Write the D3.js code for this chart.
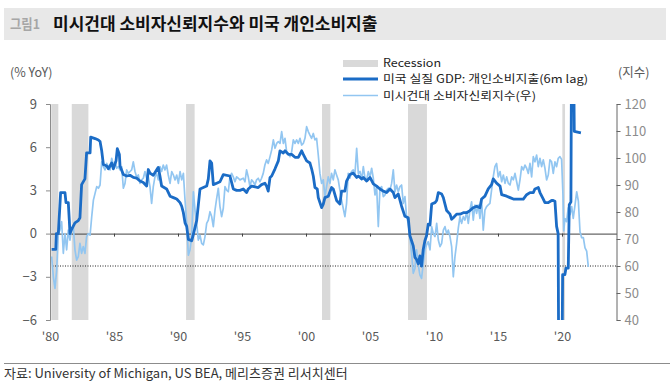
<!DOCTYPE html>
<html><head><meta charset="utf-8">
<script src="https://cdn.jsdelivr.net/npm/d3@7/dist/d3.min.js"></script>
<style>
html,body{margin:0;padding:0;background:#fff;}
svg text{font-family:"Noto Sans CJK KR","Noto Sans",sans-serif;}
</style></head>
<body>
<svg id="c" width="670" height="381"></svg>
<script>
// ---- data ----
const titleTag = "그림1";
const titleText = "미시건대 소비자신뢰지수와 미국 개인소비지출";
const sourceText = "자료: University of Michigan, US BEA, 메리츠증권 리서치센터";
const legendLabels = ["Recession", "미국 실질 GDP: 개인소비지출(6m lag)", "미시건대 소비자신뢰지수(우)"];
const leftUnit = "(% YoY)";
const rightUnit = "(지수)";
const leftTicks = [-6, -3, 0, 3, 6, 9];
const rightTicks = [40, 50, 60, 70, 80, 90, 100, 110, 120];
const xTickYears = [1980, 1985, 1990, 1995, 2000, 2005, 2010, 2015, 2020];
const xTickLabels = ["'80", "'85", "'90", "'95", "'00", "'05", "'10", "'15", "'20"];
const recessionStarts = [1980.1, 1981.7, 1990.63, 2001.25, 2007.97, 2020.03];
const recessionEnds   = [1980.65, 1983.0, 1991.3, 2001.9, 2009.45, 2020.24];
const sentimentRefLine = 60;

// 미국 실질 GDP: 개인소비지출 YoY (6m lag), decimal years
const pceDates = [1980.13,1980.45,1980.5,1980.65,1980.83,1981.17,1981.25,1981.43,1981.51,1981.56,1981.69,1981.95,1982.21,1982.34,1982.47,1982.73,1982.86,1983.13,1983.18,1983.52,1983.78,1983.91,1984.04,1984.17,1984.43,1984.56,1984.82,1984.95,1985.16,1985.26,1985.42,1985.47,1985.73,1985.99,1986.25,1986.51,1986.77,1987.03,1987.29,1987.55,1987.68,1987.81,1988.07,1988.46,1988.59,1988.72,1989.11,1989.38,1989.64,1989.9,1990.16,1990.29,1990.42,1990.55,1990.68,1990.81,1991.07,1991.2,1991.46,1991.59,1991.72,1991.98,1992.24,1992.37,1992.5,1992.63,1992.76,1993.02,1993.28,1993.54,1994.06,1994.32,1994.58,1994.84,1995.1,1995.36,1995.49,1995.75,1996.27,1996.53,1996.79,1996.92,1997.05,1997.19,1997.32,1997.58,1997.84,1997.97,1998.23,1998.36,1998.62,1998.88,1999.14,1999.4,1999.66,1999.79,2000.05,2000.31,2000.44,2000.57,2000.7,2000.88,2000.96,2001.09,2001.22,2001.35,2001.48,2001.74,2002.0,2002.13,2002.39,2002.65,2002.78,2003.04,2003.17,2003.43,2003.69,2003.96,2004.09,2004.35,2004.48,2004.74,2005.0,2005.26,2005.52,2005.78,2006.04,2006.3,2006.56,2006.82,2006.95,2007.21,2007.47,2007.73,2007.99,2008.12,2008.25,2008.38,2008.51,2008.64,2008.77,2008.9,2009.03,2009.16,2009.29,2009.42,2009.55,2009.69,2009.82,2010.08,2010.21,2010.34,2010.6,2010.73,2010.86,2010.99,2011.25,2011.38,2011.51,2011.77,2012.03,2012.29,2012.55,2012.81,2013.07,2013.33,2013.59,2013.72,2013.98,2014.24,2014.5,2014.63,2014.89,2015.16,2015.29,2015.68,2015.94,2016.2,2016.59,2016.98,2017.24,2017.5,2017.76,2017.89,2018.15,2018.28,2018.54,2018.67,2018.93,2019.19,2019.32,2019.45,2019.58,2019.7,2019.76,2019.98,2020.05,2020.23,2020.31,2020.49,2020.57,2020.7,2020.76,2020.88,2020.96,2021.48];
const pceValues = [-1.1,-1.1,0.0,0.0,2.85,2.85,2.15,2.15,0.9,0.0,0.3,0.75,0.9,1.1,3.4,3.8,5.6,5.6,6.7,6.6,6.5,6.4,5.75,4.8,4.7,4.5,4.9,4.5,5.05,5.9,5.5,4.7,4.1,4.0,4.05,3.9,3.85,3.65,3.55,3.3,4.45,4.2,4.05,4.6,4.0,3.3,3.1,2.6,2.5,2.4,2.15,1.9,1.45,0.75,0.5,-0.4,-0.5,-0.05,0.9,2.0,3.1,3.2,3.3,3.8,5.05,4.9,3.4,3.5,3.6,4.1,4.0,3.1,3.0,3.0,3.1,2.85,3.1,3.3,3.2,3.4,3.5,3.3,2.95,3.9,4.0,4.5,5.05,5.75,5.6,5.75,5.5,5.5,5.3,5.3,5.75,5.5,5.05,4.9,4.5,4.0,3.2,3.1,2.5,2.15,1.8,2.05,2.5,2.6,3.2,3.1,2.3,2.05,2.95,2.95,3.65,4.1,4.2,3.9,4.0,3.8,3.9,3.65,3.9,3.45,3.3,3.1,2.95,2.85,3.1,2.85,2.5,2.75,1.9,1.2,1.1,-0.15,-0.5,-0.85,-1.65,-1.8,-2.1,-1.55,-2.25,-1.1,-0.5,-0.15,0.65,0.6,2.05,2.15,2.3,2.85,2.75,2.5,2.05,1.6,1.35,1.0,1.1,1.35,1.35,1.45,1.45,1.6,1.8,1.9,1.8,2.4,2.6,3.1,3.4,3.8,3.5,3.3,2.7,2.6,2.5,2.4,2.4,2.4,2.7,2.85,2.85,3.1,3.2,2.85,2.4,2.15,2.15,2.3,2.3,2.25,0.5,0.0,-12,-12,-2.85,-2.85,-2.4,-2.4,2.0,2.2,16,16,7.1,7.0];

// 미시건대 소비자신뢰지수 (우), decimal years
const sentDates = [1980.13,1980.26,1980.39,1980.52,1980.65,1980.78,1980.91,1981.04,1981.17,1981.3,1981.43,1981.56,1981.69,1981.82,1981.95,1982.08,1982.21,1982.34,1982.47,1982.6,1982.73,1982.86,1982.99,1983.13,1983.26,1983.39,1983.52,1983.65,1983.78,1983.91,1984.04,1984.17,1984.3,1984.43,1984.56,1984.69,1984.82,1984.95,1985.08,1985.21,1985.34,1985.47,1985.6,1985.73,1985.86,1985.99,1986.12,1986.25,1986.38,1986.51,1986.64,1986.77,1986.9,1987.03,1987.16,1987.29,1987.42,1987.55,1987.68,1987.81,1987.94,1988.07,1988.2,1988.33,1988.46,1988.59,1988.72,1988.85,1988.98,1989.11,1989.24,1989.38,1989.51,1989.64,1989.77,1989.9,1990.03,1990.16,1990.29,1990.42,1990.55,1990.68,1990.81,1990.94,1991.07,1991.2,1991.33,1991.46,1991.59,1991.72,1991.85,1991.98,1992.11,1992.24,1992.37,1992.5,1992.63,1992.76,1992.89,1993.02,1993.15,1993.28,1993.41,1993.54,1993.67,1993.8,1993.93,1994.06,1994.19,1994.32,1994.45,1994.58,1994.71,1994.84,1995.1,1995.23,1995.36,1995.49,1995.62,1995.75,1995.88,1996.01,1996.14,1996.27,1996.4,1996.53,1996.66,1996.79,1996.92,1997.05,1997.19,1997.32,1997.45,1997.58,1997.71,1997.84,1997.97,1998.1,1998.23,1998.36,1998.49,1998.62,1998.75,1998.88,1999.01,1999.14,1999.27,1999.4,1999.53,1999.66,1999.79,1999.92,2000.05,2000.18,2000.31,2000.44,2000.57,2000.7,2000.83,2000.96,2001.09,2001.22,2001.35,2001.48,2001.61,2001.74,2001.87,2002.0,2002.13,2002.26,2002.39,2002.52,2002.65,2002.78,2002.91,2003.04,2003.17,2003.3,2003.43,2003.56,2003.69,2003.82,2003.96,2004.09,2004.22,2004.35,2004.48,2004.61,2004.74,2004.87,2005.0,2005.13,2005.26,2005.39,2005.52,2005.65,2005.78,2005.91,2006.04,2006.17,2006.3,2006.43,2006.56,2006.69,2006.82,2006.95,2007.08,2007.21,2007.34,2007.47,2007.6,2007.73,2007.86,2007.99,2008.12,2008.25,2008.38,2008.51,2008.64,2008.77,2008.9,2009.03,2009.16,2009.29,2009.42,2009.55,2009.69,2009.82,2009.95,2010.08,2010.21,2010.34,2010.47,2010.6,2010.73,2010.86,2010.99,2011.12,2011.25,2011.38,2011.51,2011.64,2011.77,2011.9,2012.03,2012.16,2012.29,2012.42,2012.55,2012.68,2012.81,2012.94,2013.07,2013.2,2013.33,2013.46,2013.59,2013.72,2013.85,2013.98,2014.11,2014.24,2014.37,2014.5,2014.63,2014.76,2014.89,2015.02,2015.16,2015.29,2015.42,2015.55,2015.68,2015.81,2015.94,2016.07,2016.2,2016.33,2016.46,2016.59,2016.72,2016.85,2016.98,2017.11,2017.24,2017.37,2017.5,2017.63,2017.76,2017.89,2018.02,2018.15,2018.28,2018.41,2018.54,2018.67,2018.8,2018.93,2019.06,2019.19,2019.32,2019.45,2019.58,2019.71,2019.84,2019.97,2020.08,2020.14,2020.23,2020.36,2020.49,2020.63,2020.76,2020.88,2021.02,2021.15,2021.28,2021.41,2021.54,2021.67,2021.8,2021.93,2022.06];
const sentValues = [63.5,56,51.7,58.5,72,73.3,76.4,64.7,72,66,73.3,69.6,74,74.6,66,62.2,63.5,68.4,64.7,67.2,64.7,70.9,72,71.4,78.3,84.4,86.9,89.4,88.8,90,98.6,96.8,95.6,98,96.8,95.6,99.9,97.4,98.6,96.2,96.8,95.6,96.8,88.8,90.6,95.6,94.3,95,95.6,98.6,95,93,93.7,90.6,91.9,92.5,95,92.5,93,89.4,83.2,89.4,93,94.3,91.9,96.8,95,97.4,95.6,97.4,93.7,90.6,95,93.7,91.9,93.7,90.6,95,91.9,94.3,84.4,75.8,64,66,70.9,87.5,80.7,75.8,69.6,71.4,68.4,67.8,70.9,75.8,77,80.1,78.3,74.6,80.7,85,88.8,82,78.3,81.4,89.4,88.1,87.5,93,94.3,93,91.2,93,92.5,91.9,92.5,91.2,95.6,93,89.4,91.9,91.2,90,91.9,92.5,91.2,92.5,94.3,97.4,99.3,98,100.5,103,106.7,103.6,105.4,106.1,105.4,109.8,105.4,107.3,102.3,101.7,100.5,102.3,106.7,105.4,106.7,105.4,107.3,104.8,105.4,107.3,111.6,109.8,108.5,107.3,109.1,106.7,107.3,101.1,94.3,90.6,91.9,85.7,89.4,93,90.6,94.3,91.9,95.6,93.7,91.9,88.1,84.4,81.4,78.3,83.2,94.3,92.5,95,95.6,93.7,103.6,94.3,95,91.9,96.8,92.5,91.9,95,93,96.2,92.5,86.3,89.4,74.6,88.8,89.4,85.7,86.3,88.1,88.8,88.1,90.6,95.6,87.5,90,87.5,89.4,90,83.2,85.7,78.3,75.8,70.9,64.7,57.3,59.1,66,60.4,56.7,55.4,61,66,67.8,69,66,74.6,72,70.9,75.8,69.6,67.2,68.4,73.3,74.6,72,73.3,70.9,67.2,56,63.5,68.4,74,78.3,75.8,78.3,77,80.1,75.8,80.7,83.8,77,82.6,79.5,82.6,77.6,84.4,73.3,80.7,82,82.6,83.2,88.1,93,96.8,98,93,95,91.2,93.7,90.6,93,90.6,90,93,91.9,94.3,91.2,88.1,91.9,96.8,95.6,97.4,96.2,94.3,98,93,100.5,98.6,101.1,96.8,99.9,96.8,99.3,96.2,91.9,93.7,99.3,98.6,94.3,98.6,96.8,99.9,100.5,99.5,86,73,77.6,76.4,81.5,79,82,77.6,82.6,87.5,84,72.7,70.5,70.5,66.7,65.5,59.7];

// ---- layout ----
const svg = d3.select("#c");
const L = 50, R = 616.5, T = 104, B = 320;
const x = d3.scaleLinear().domain([1980, 2024.26]).range([L, R]);
const yL = d3.scaleLinear().domain([-6, 9]).range([B, T]);
const yR = d3.scaleLinear().domain([40, 120]).range([B, T]);
const darkBlue = "#1b6cc6", lightBlue = "#92c6f1", recGray = "#d9d9d9", axisGray = "#8c8c8c", labelGray = "#595959";

// title band
svg.append("rect").attr("x", 4).attr("y", 8).attr("width", 662).attr("height", 32).attr("fill", "#e8e8e8");
svg.append("text").attr("x", 10).attr("y", 29).attr("font-size", 13.5).attr("font-weight", 700).attr("fill", "#a6a6a6")
  .attr("textLength", 30).attr("lengthAdjust", "spacingAndGlyphs").text(titleTag);
svg.append("text").attr("x", 53).attr("y", 29.5).attr("font-size", 17).attr("font-weight", 700).attr("fill", "#111").text(titleText);

// clip
svg.append("defs").append("clipPath").attr("id", "plot").append("rect")
  .attr("x", L).attr("y", T).attr("width", R - L).attr("height", B - T);

// recessions
svg.append("g").selectAll("rect").data(d3.range(recessionStarts.length)).join("rect")
  .attr("x", i => x(recessionStarts[i])).attr("width", i => x(recessionEnds[i]) - x(recessionStarts[i]))
  .attr("y", T).attr("height", B - T).attr("fill", recGray);

// zero axis with ticks
const gx = svg.append("g").attr("transform", `translate(0,${yL(0)})`)
  .call(d3.axisBottom(x).tickValues(xTickYears).tickSize(3).tickSizeOuter(0).tickFormat(""));
gx.select(".domain").attr("stroke", "#404040");
gx.selectAll(".tick line").attr("stroke", "#404040");

// dotted reference line at 60
svg.append("line").attr("x1", L).attr("x2", R).attr("y1", yR(sentimentRefLine)).attr("y2", yR(sentimentRefLine))
  .attr("stroke", "#222").attr("stroke-width", 1).attr("stroke-dasharray", "1,1.5");

// lines
const sentData = sentDates.map((d, i) => [d, sentValues[i]]);
const pceData = pceDates.map((d, i) => [d, pceValues[i]]);
const gl = svg.append("g").attr("clip-path", "url(#plot)");
gl.append("path").datum(sentData).attr("fill", "none").attr("stroke", lightBlue).attr("stroke-width", 1.7)
  .attr("stroke-linejoin", "round")
  .attr("d", d3.line().x(d => x(d[0])).y(d => yR(d[1])));
gl.append("path").datum(pceData).attr("fill", "none").attr("stroke", darkBlue).attr("stroke-width", 2.8)
  .attr("stroke-linejoin", "round")
  .attr("d", d3.line().x(d => x(d[0])).y(d => yL(d[1])));

// left axis
const ga = svg.append("g").attr("transform", `translate(${L},0)`)
  .call(d3.axisLeft(yL).tickValues(leftTicks).tickSize(4).tickPadding(9).tickFormat(d3.format("d")));
ga.select(".domain").attr("stroke", axisGray);
ga.selectAll(".tick line").attr("stroke", axisGray);
ga.selectAll("text").attr("font-size", 13).attr("fill", labelGray).attr("font-family", '"Noto Sans","Noto Sans CJK KR",sans-serif');

// right axis
const gr = svg.append("g").attr("transform", `translate(${R},0)`)
  .call(d3.axisRight(yR).tickValues(rightTicks).tickSize(4).tickPadding(4));
gr.select(".domain").attr("stroke", "#666");
gr.selectAll(".tick line").attr("stroke", "#666");
gr.selectAll("text").attr("font-size", 13).attr("fill", "#8c8c8c").attr("font-family", '"Noto Sans","Noto Sans CJK KR",sans-serif');

// bottom labels
const gb = svg.append("g").attr("transform", `translate(0,${B})`)
  .call(d3.axisBottom(x).tickValues(xTickYears).tickSize(0).tickPadding(12).tickFormat((d, i) => xTickLabels[i]));
gb.select(".domain").remove();
gb.selectAll("text").attr("font-size", 12.5).attr("fill", labelGray).attr("font-family", '"Noto Sans","Noto Sans CJK KR",sans-serif');

// unit labels
svg.append("text").attr("x", 10).attr("y", 77).attr("font-size", 12.5).attr("fill", labelGray).text(leftUnit);
svg.append("text").attr("x", 618).attr("y", 77).attr("font-size", 12.5).attr("fill", labelGray).text(rightUnit);

// legend
const legendY = [63.3, 79.6, 95.9];
const legendW = [58, 205, 153];
const lg = svg.append("g");
lg.append("rect").attr("x", 343).attr("y", 60).attr("width", 35).attr("height", 7).attr("fill", recGray);
lg.append("line").attr("x1", 343).attr("x2", 378).attr("y1", 79).attr("y2", 79).attr("stroke", darkBlue).attr("stroke-width", 2.8);
lg.append("line").attr("x1", 343).attr("x2", 378).attr("y1", 95.5).attr("y2", 95.5).attr("stroke", lightBlue).attr("stroke-width", 1.7);
legendY.forEach((yy, i) => {
  lg.append("text").attr("x", 383).attr("y", yy).attr("dy", "0.35em").attr("font-size", 11.1).attr("fill", "#222")
    .attr("textLength", legendW[i]).attr("lengthAdjust", "spacingAndGlyphs").text(legendLabels[i]);
});

// source
svg.append("line").attr("x1", 4).attr("x2", 670).attr("y1", 363.5).attr("y2", 363.5).attr("stroke", "#8c8c8c").attr("stroke-width", 1);
svg.append("text").attr("x", 4).attr("y", 373).attr("dy", "0.35em").attr("font-size", 13).attr("fill", "#333").text(sourceText);
</script>
</body></html>
